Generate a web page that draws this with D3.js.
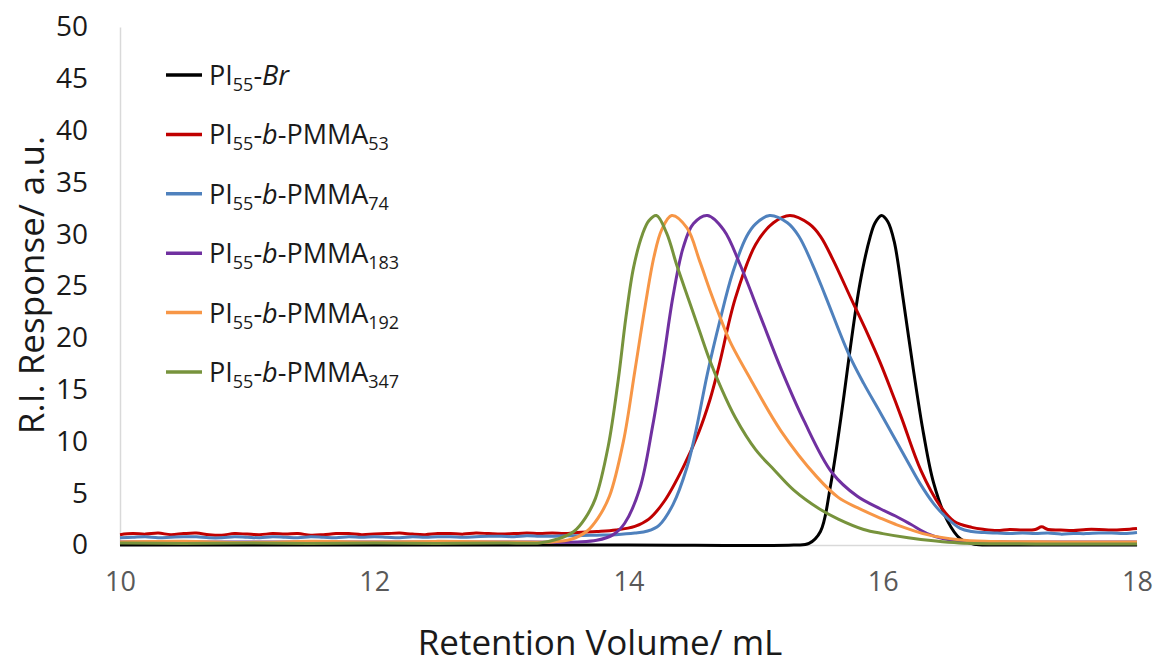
<!DOCTYPE html>
<html>
<head>
<meta charset="utf-8">
<script src="https://cdn.jsdelivr.net/npm/d3@7"></script>
<style>
  html, body { margin: 0; padding: 0; background: #ffffff; }
  svg { display: block; font-family: "Open Sans", "Lato", sans-serif; }
</style>
</head>
<body>
<svg id="chart" width="1157" height="666"></svg>
<script>
// Retention volume (mL) and R.I. response (a.u.)
const pi55Br = [[10,0],[12,0],[14,0],[15.3,0],[15.42,0.15],[15.51,1.3],[15.59,5.8],[15.67,12.2],[15.74,18.6],[15.82,25.2],[15.90,29.7],[15.94,31.1],[15.99,31.8],[16.04,31.2],[16.09,29.3],[16.16,23.8],[16.24,17.0],[16.32,10.8],[16.40,6.0],[16.51,2.3],[16.61,0.6],[16.72,0.08],[16.85,0],[17.0,0],[17.5,0],[18,0]];
const pmma53 = [[10,1.0],[10.1,1.1],[10.2,1.05],[10.3,1.15],[10.4,1.0],[10.5,1.1],[10.6,1.15],[10.7,1.0],[10.8,0.95],[10.9,1.1],[11.0,1.05],[11.1,1.0],[11.2,1.1],[11.3,1.05],[11.4,1.1],[11.5,0.95],[11.6,1.0],[11.7,1.1],[11.8,1.1],[11.9,1.0],[12.0,1.05],[12.1,1.1],[12.2,1.15],[12.3,1.05],[12.4,1.0],[12.5,1.1],[12.6,1.1],[12.7,1.05],[12.8,1.15],[12.9,1.1],[13.0,1.05],[13.1,1.1],[13.2,1.15],[13.3,1.1],[13.4,1.15],[13.5,1.1],[13.6,1.2],[13.75,1.3],[13.9,1.45],[14.05,1.8],[14.16,2.5],[14.28,4.2],[14.43,7.5],[14.55,10.8],[14.64,14.0],[14.71,17.2],[14.84,23.8],[15.0,29.0],[15.14,31.1],[15.27,31.8],[15.42,31.0],[15.51,29.8],[15.61,27.5],[15.75,23.8],[15.88,20.4],[15.98,17.6],[16.07,14.8],[16.15,12.2],[16.30,7.2],[16.45,3.8],[16.56,2.3],[16.7,1.7],[16.8,1.5],[16.9,1.4],[17.0,1.5],[17.1,1.45],[17.2,1.5],[17.25,1.75],[17.3,1.5],[17.4,1.45],[17.5,1.4],[17.6,1.5],[17.7,1.5],[17.8,1.45],[17.9,1.5],[18,1.6]];
const pmma74 = [[10,0.7],[10.1,0.75],[10.2,0.8],[10.3,0.7],[10.4,0.75],[10.5,0.8],[10.6,0.8],[10.7,0.7],[10.8,0.7],[10.9,0.8],[11.0,0.75],[11.1,0.7],[11.2,0.8],[11.3,0.75],[11.4,0.7],[11.5,0.8],[11.6,0.75],[11.7,0.7],[11.8,0.8],[11.9,0.75],[12.0,0.8],[12.1,0.75],[12.2,0.7],[12.3,0.8],[12.4,0.75],[12.5,0.8],[12.6,0.8],[12.7,0.75],[12.8,0.8],[12.9,0.85],[13.0,0.85],[13.1,0.8],[13.2,0.9],[13.3,0.85],[13.4,0.85],[13.5,0.9],[13.6,0.9],[13.75,0.95],[13.9,1.0],[14.05,1.15],[14.15,1.35],[14.24,1.9],[14.35,3.9],[14.46,7.5],[14.53,11.0],[14.62,16.5],[14.72,21.7],[14.82,26.3],[14.93,29.8],[15.0,31.0],[15.11,31.8],[15.25,31.1],[15.34,29.8],[15.45,27.0],[15.55,24.0],[15.73,18.5],[15.85,15.6],[15.98,12.8],[16.08,10.6],[16.18,8.4],[16.29,6.0],[16.40,4.0],[16.48,2.9],[16.61,1.6],[16.7,1.3],[16.8,1.2],[16.9,1.15],[17.0,1.1],[17.1,1.15],[17.2,1.1],[17.3,1.15],[17.4,1.05],[17.5,1.1],[17.6,1.1],[17.7,1.15],[17.8,1.15],[17.9,1.1],[18,1.2]];
const pmma183 = [[10,0.3],[11.0,0.3],[12.0,0.3],[13.0,0.3],[13.6,0.3],[13.75,0.45],[13.88,1.0],[13.97,2.1],[14.09,5.5],[14.19,11.5],[14.27,17.5],[14.35,24.0],[14.43,28.7],[14.51,31.0],[14.62,31.8],[14.75,30.4],[14.88,27.0],[15.04,22.0],[15.2,17.0],[15.38,12.0],[15.6,7.0],[15.8,4.7],[15.98,3.5],[16.1,2.8],[16.22,2.0],[16.35,1.1],[16.48,0.6],[16.65,0.35],[17.0,0.3],[18,0.3]];
const pmma192 = [[10,0.3],[10.5,0.35],[11.0,0.25],[11.5,0.35],[12.0,0.3],[12.5,0.35],[13.0,0.3],[13.4,0.3],[13.55,0.55],[13.67,1.3],[13.76,2.6],[13.85,4.7],[13.96,10.0],[14.05,16.8],[14.13,23.0],[14.2,27.8],[14.26,30.4],[14.34,31.8],[14.46,30.6],[14.56,27.4],[14.64,24.6],[14.72,22.0],[14.80,19.6],[14.96,16.0],[15.2,11.0],[15.48,6.6],[15.65,4.6],[15.8,3.6],[15.98,2.6],[16.1,2.0],[16.35,1.0],[16.6,0.5],[16.8,0.35],[17.4,0.3],[18,0.3]];
const pmma347 = [[10,0.2],[10.5,0.15],[11.0,0.2],[11.5,0.15],[12.0,0.2],[12.5,0.15],[13.0,0.2],[13.3,0.2],[13.45,0.6],[13.57,1.3],[13.66,2.6],[13.74,4.5],[13.84,9.5],[13.92,16.0],[13.98,22.0],[14.04,26.8],[14.11,30.0],[14.16,31.3],[14.22,31.8],[14.30,30.1],[14.38,27.0],[14.47,23.8],[14.56,20.6],[14.64,17.8],[14.72,15.4],[14.84,12.3],[15.0,9.2],[15.15,7.2],[15.3,5.3],[15.5,3.5],[15.65,2.5],[15.85,1.5],[16.0,1.1],[16.2,0.7],[16.4,0.4],[16.6,0.2],[17.2,0.1],[18,0.1]];

// Legend labels: base, subscript, italic part, tail, subscript
const seriesNames = [
  { base: "PI", sub1: "55", ital: "Br", tail: "", sub2: "" },
  { base: "PI", sub1: "55", ital: "b", tail: "-PMMA", sub2: "53" },
  { base: "PI", sub1: "55", ital: "b", tail: "-PMMA", sub2: "74" },
  { base: "PI", sub1: "55", ital: "b", tail: "-PMMA", sub2: "183" },
  { base: "PI", sub1: "55", ital: "b", tail: "-PMMA", sub2: "192" },
  { base: "PI", sub1: "55", ital: "b", tail: "-PMMA", sub2: "347" }
];
const seriesData = [pi55Br, pmma53, pmma74, pmma183, pmma192, pmma347];
const seriesColors = ["#000000", "#C00000", "#4F81BD", "#7030A0", "#F79646", "#77933C"];

const xTicks = [10, 12, 14, 16, 18];
const yTicks = [0, 5, 10, 15, 20, 25, 30, 35, 40, 45, 50];
const xTitle = "Retention Volume/ mL";
const yTitle = "R.I. Response/ a.u.";

const svg = d3.select("#chart");
const plot = { left: 120, right: 1137, top: 27, bottom: 545 };

const x = d3.scaleLinear().domain([10, 18]).range([plot.left, plot.right]);
const y = d3.scaleLinear().domain([0, 50]).range([plot.bottom, plot.top]);

// Axes (no tick marks, light axis lines)
const xAxis = svg.append("g")
  .attr("transform", `translate(0,${plot.bottom})`)
  .call(d3.axisBottom(x).tickValues(xTicks).tickSize(0).tickPadding(27).tickFormat(d3.format("d")));
xAxis.select(".domain").attr("stroke", "#D9D9D9").attr("stroke-width", 1.5);
xAxis.selectAll("text").attr("font-size", 27).attr("fill", "#595959").attr("font-family", "Open Sans");

const yAxis = svg.append("g")
  .attr("transform", `translate(${plot.left},0)`)
  .call(d3.axisLeft(y).tickValues(yTicks).tickSize(0).tickPadding(32).tickFormat(d3.format("d")));
yAxis.select(".domain").attr("stroke", "#D9D9D9").attr("stroke-width", 1.5);
yAxis.selectAll("text").attr("font-size", 28).attr("fill", "#1a1a1a").attr("font-family", "Open Sans");

// Axis titles
svg.append("text")
  .attr("x", 600)
  .attr("y", 655)
  .attr("text-anchor", "middle")
  .attr("font-size", 35)
  .attr("fill", "#1a1a1a")
  .text(xTitle);

svg.append("text")
  .attr("transform", `translate(44,285) rotate(-90)`)
  .attr("text-anchor", "middle")
  .attr("font-size", 35)
  .attr("fill", "#1a1a1a")
  .text(yTitle);

// Traces
const line = d3.line()
  .x(d => x(d[0]))
  .y(d => y(d[1]))
  .curve(d3.curveCatmullRom.alpha(0.5));

svg.append("g")
  .selectAll("path")
  .data(seriesData)
  .join("path")
  .attr("d", line)
  .attr("fill", "none")
  .attr("stroke", (d, i) => seriesColors[i])
  .attr("stroke-width", 3)
  .attr("stroke-linejoin", "round");

// Legend
const legend = svg.append("g").attr("transform", "translate(166,75)");
const rowGap = 59.4;
const rows = legend.selectAll("g")
  .data(seriesNames)
  .join("g")
  .attr("transform", (d, i) => `translate(0,${i * rowGap})`);

rows.append("line")
  .attr("x1", 0).attr("x2", 36)
  .attr("y1", 0).attr("y2", 0)
  .attr("stroke", (d, i) => seriesColors[i])
  .attr("stroke-width", 3.5);

const label = rows.append("text")
  .attr("x", 43)
  .attr("y", 10)
  .attr("font-size", 27)
  .attr("fill", "#1a1a1a");

label.append("tspan").text(d => d.base);
label.append("tspan").attr("font-size", 18).attr("dy", 6).text(d => d.sub1);
label.append("tspan").attr("dy", -6).text("-");
label.append("tspan").attr("font-style", "italic").text(d => d.ital);
label.append("tspan").text(d => d.tail);
label.append("tspan").attr("font-size", 18).attr("dy", 6).text(d => d.sub2);
</script>
</body>
</html>
